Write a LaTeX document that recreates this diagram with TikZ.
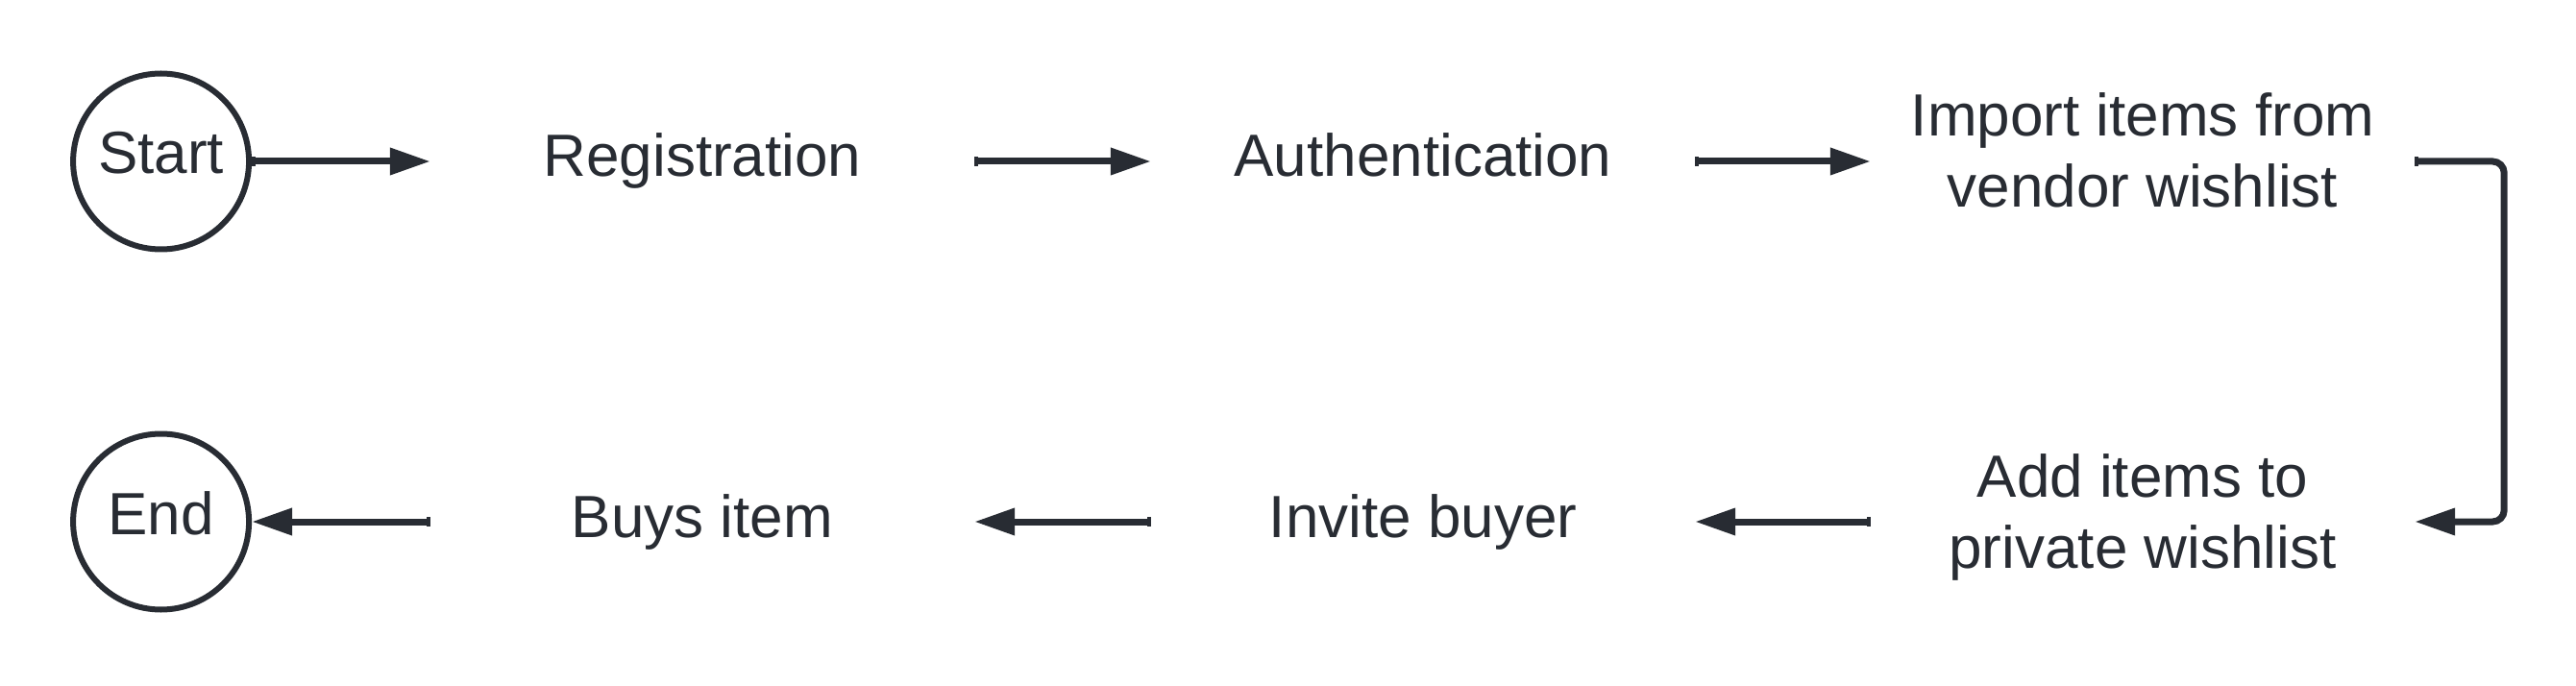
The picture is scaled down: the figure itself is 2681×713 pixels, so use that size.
\documentclass[tikz,border=0pt]{standalone}
\usepackage{fontspec}
\setmainfont{Liberation Sans}
\usetikzlibrary{arrows.meta}
\definecolor{ink}{HTML}{282C33}
\begin{document}
\begin{tikzpicture}[x=1pt,y=1pt,
  every node/.style={text=ink, font=\fontsize{62}{74}\selectfont},
  term/.style={circle, draw=ink, line width=6pt, minimum size=183pt, inner sep=0pt, text height=48pt, text depth=22pt},
  stepbox/.style={minimum width=566pt, inner sep=0pt, align=center, text height=52pt, text depth=20pt},
  stepboxtwo/.style={stepbox, text height=116pt, text depth=20pt},
  flow/.style={draw=ink, line width=7pt, {Rectangle[length=4pt,width=10pt]}-{Triangle[length=42pt,width=27pt]}},
]
\useasboundingbox (0,0) rectangle (2681,713);
\node[term] (start) at (167.6,545) {Start};
\node[stepbox] (reg) at (731,545) {Registration};
\node[stepbox] (auth) at (1481,545) {Authentication};
\node[stepboxtwo] (imp) at (2230,545) {Import items from\\vendor wishlist};
\node[stepboxtwo] (add) at (2230,170) {Add items to\\private wishlist};
\node[stepbox] (inv) at (1481,170) {Invite buyer};
\node[stepbox] (buy) at (731,170) {Buys item};
\node[term] (end) at (167.6,170) {End};
\draw[flow] (start) -- (reg);
\draw[flow] (reg) -- (auth);
\draw[flow] (auth) -- (imp);
\draw[flow, rounded corners=12pt] (imp.east) -- ++(93,0) |- (add.east);
\draw[flow] (add) -- (inv);
\draw[flow] (inv) -- (buy);
\draw[flow] (buy) -- (end);
\end{tikzpicture}
\end{document}
